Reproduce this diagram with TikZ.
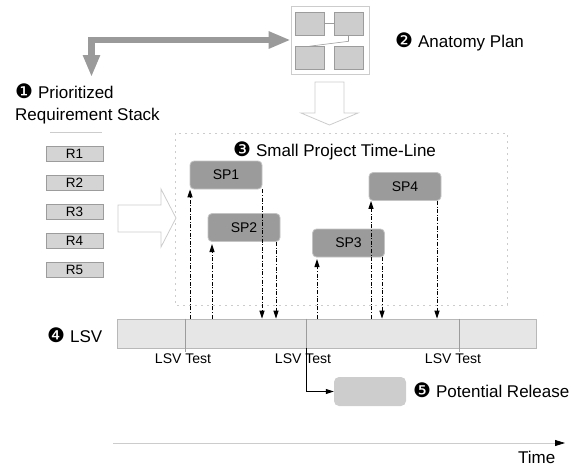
\documentclass[tikz,border=0pt]{standalone}
\usepackage{fontspec}
\setmainfont{Liberation Sans}
\newfontfamily\dingfont{DejaVu Sans}
\usetikzlibrary{arrows.meta}

\definecolor{spfill}{HTML}{9B9B9B}
\definecolor{spedge}{HTML}{C4C4C4}
\definecolor{reqfill}{HTML}{D4D4D4}
\definecolor{boxedge}{HTML}{9C9C9C}
\definecolor{barfill}{HTML}{E6E6E6}
\definecolor{baredge}{HTML}{B8B8B8}
\definecolor{relfill}{HTML}{CDCDCD}
\definecolor{paleline}{HTML}{CCCCCC}
\definecolor{bigarrow}{HTML}{9A9A9A}

% numbered bullet, a little larger than the text beside it
\newcommand{\numball}[1]{{\dingfont\fontsize{20}{21}\selectfont #1}\hspace{5pt}}

\begin{document}
\begin{tikzpicture}[x=1pt,y=-1pt,
  heading/.style={font=\fontsize{17}{21}\selectfont, inner sep=0pt, anchor=base west},
  label/.style={font=\fontsize{14}{16}\selectfont, inner sep=0pt, anchor=base},
  reqbox/.style={draw=boxedge, fill=reqfill, line width=0.7pt, minimum width=57pt,
    minimum height=15pt, inner sep=0pt, font=\fontsize{13.5}{15}\selectfont},
  spbox/.style={draw=spedge, fill=spfill, line width=0.8pt, rounded corners=4pt,
    minimum width=72pt, minimum height=28pt, inner sep=0pt, font=\fontsize{14}{16}\selectfont},
  planbox/.style={draw=boxedge, fill=relfill, line width=0.6pt, minimum width=29pt,
    minimum height=23pt, inner sep=0pt},
  flow/.style={line width=1pt, black, dash pattern=on 4pt off 1.6pt on 1pt off 1.6pt,
    -{Triangle[length=8pt,width=5pt]}},
  hollow/.style={draw=paleline, fill=white, line width=0.8pt, line join=miter},
  testline/.style={draw=boxedge, line width=0.7pt},
]
\useasboundingbox (0,0) rectangle (571,467);

% frame round the small projects
\draw[paleline, line width=0.8pt, dash pattern=on 2pt off 4pt] (175,133) rectangle (507,305);

% anatomy plan
\node[draw=paleline, line width=0.8pt, fill=white, minimum width=78pt, minimum height=68pt, inner sep=0pt] (plan) at (330,40) {};
\node[planbox] (ap1) at (309.5,23.5) {};
\node[planbox] (ap2) at (348.5,23.5) {};
\node[planbox] (ap3) at (309.5,58) {};
\node[planbox] (ap4) at (348.5,58) {};
\draw[boxedge, line width=0.6pt] (ap1.east) -- (ap2.west);
\draw[boxedge, line width=0.6pt] (ap2.south) -- ++(0,6) -- (ap3.north);
\node[heading] (plantxt) at (395,47) {\numball{❷}Anatomy Plan};

% requirement stack
\node[heading] (stack1) at (15,98) {\numball{❶}Prioritized};
\node[heading] (stack2) at (15,120) {Requirement Stack};
\draw[paleline, line width=0.8pt] (50,132) -- (102,132);
\node[reqbox] (r1) at (74.5,153.5) {R1};
\node[reqbox] (r2) at (74.5,182.5) {R2};
\node[reqbox] (r3) at (74.5,211.5) {R3};
\node[reqbox] (r4) at (74.5,240.5) {R4};
\node[reqbox] (r5) at (74.5,269.5) {R5};

% stack <-> plan
\coordinate (stackin) at (91.5,77);
\draw[bigarrow, line width=6.5pt,
  {Triangle[width=16pt,length=22pt]}-{Triangle[width=16pt,length=22pt]}]
  (stackin) |- (plan.west);

% hollow arrows
\draw[hollow] (315,82) -- (344,82) -- (344,113) -- (358,113) -- (329.5,125)
  -- (301,113) -- (315,113) -- cycle;
\draw[hollow] (118,205) -- (161,205) -- (161,189) -- (176,218) -- (161,247)
  -- (161,232) -- (118,232) -- cycle;

% small projects
\node[heading] (sptxt) at (233,156) {\numball{❸}Small Project Time-Line};
\node[spbox] (sp1) at (226,175) {SP1};
\node[spbox] (sp2) at (244,227.5) {SP2};
\node[spbox] (sp3) at (348.5,243) {SP3};
\node[spbox] (sp4) at (405,186.5) {SP4};

% LSV bar
\node[draw=baredge, fill=barfill, line width=0.8pt, minimum width=419pt, minimum height=29pt, inner sep=0pt] (lsv) at (326.5,333.5) {};
\node[heading] (lsvtxt) at (47,342) {\numball{❹}LSV};

% flows between bar and projects
\draw[flow] (lsv.north -| 190,0) -- (sp1.south -| 190,0);
\draw[flow] (lsv.north -| 212,0) -- (212,244);
\draw[flow] (lsv.north -| 317,0) -- (317,259);
\draw[flow] (lsv.north -| 371,0) -- (sp4.south -| 371,0);
\draw[flow] (sp1.south -| 262,0) -- (lsv.north -| 262,0);
\draw[flow] (sp2.south -| 276,0) -- (lsv.north -| 276,0);
\draw[flow] (sp3.south -| 382,0) -- (lsv.north -| 382,0);
\draw[flow] (sp4.south -| 437,0) -- (lsv.north -| 437,0);

% LSV tests
\draw[testline] (lsv.north -| 185,0) -- (185,352);
\draw[testline] (lsv.north -| 459,0) -- (459,352);
\draw[testline] (lsv.north -| 306,0) -- (lsv.south -| 306,0);
\node[label] (t1) at (183,363) {LSV Test};
\node[label] (t2) at (303,363) {LSV Test};
\node[label] (t3) at (453,363) {LSV Test};

% potential release
\node[fill=relfill, rounded corners=5pt, minimum width=72pt, minimum height=29pt, inner sep=0pt] (rel) at (370,391.5) {};
\draw[black, line width=0.7pt, -{Triangle[length=8pt,width=5pt]}]
  (lsv.south -| 306,0) |- (rel.west);
\node[heading] (reltxt) at (413,397) {\numball{❺}Potential Release};

% time axis
\coordinate (tstart) at (113,443);
\coordinate (tend) at (565,443);
\draw[paleline, line width=0.8pt, -{Triangle[length=10pt,width=6pt,color=black]}] (tstart) -- (tend);
\node[heading] (timetxt) at (518,463) {Time};
\end{tikzpicture}
\end{document}
